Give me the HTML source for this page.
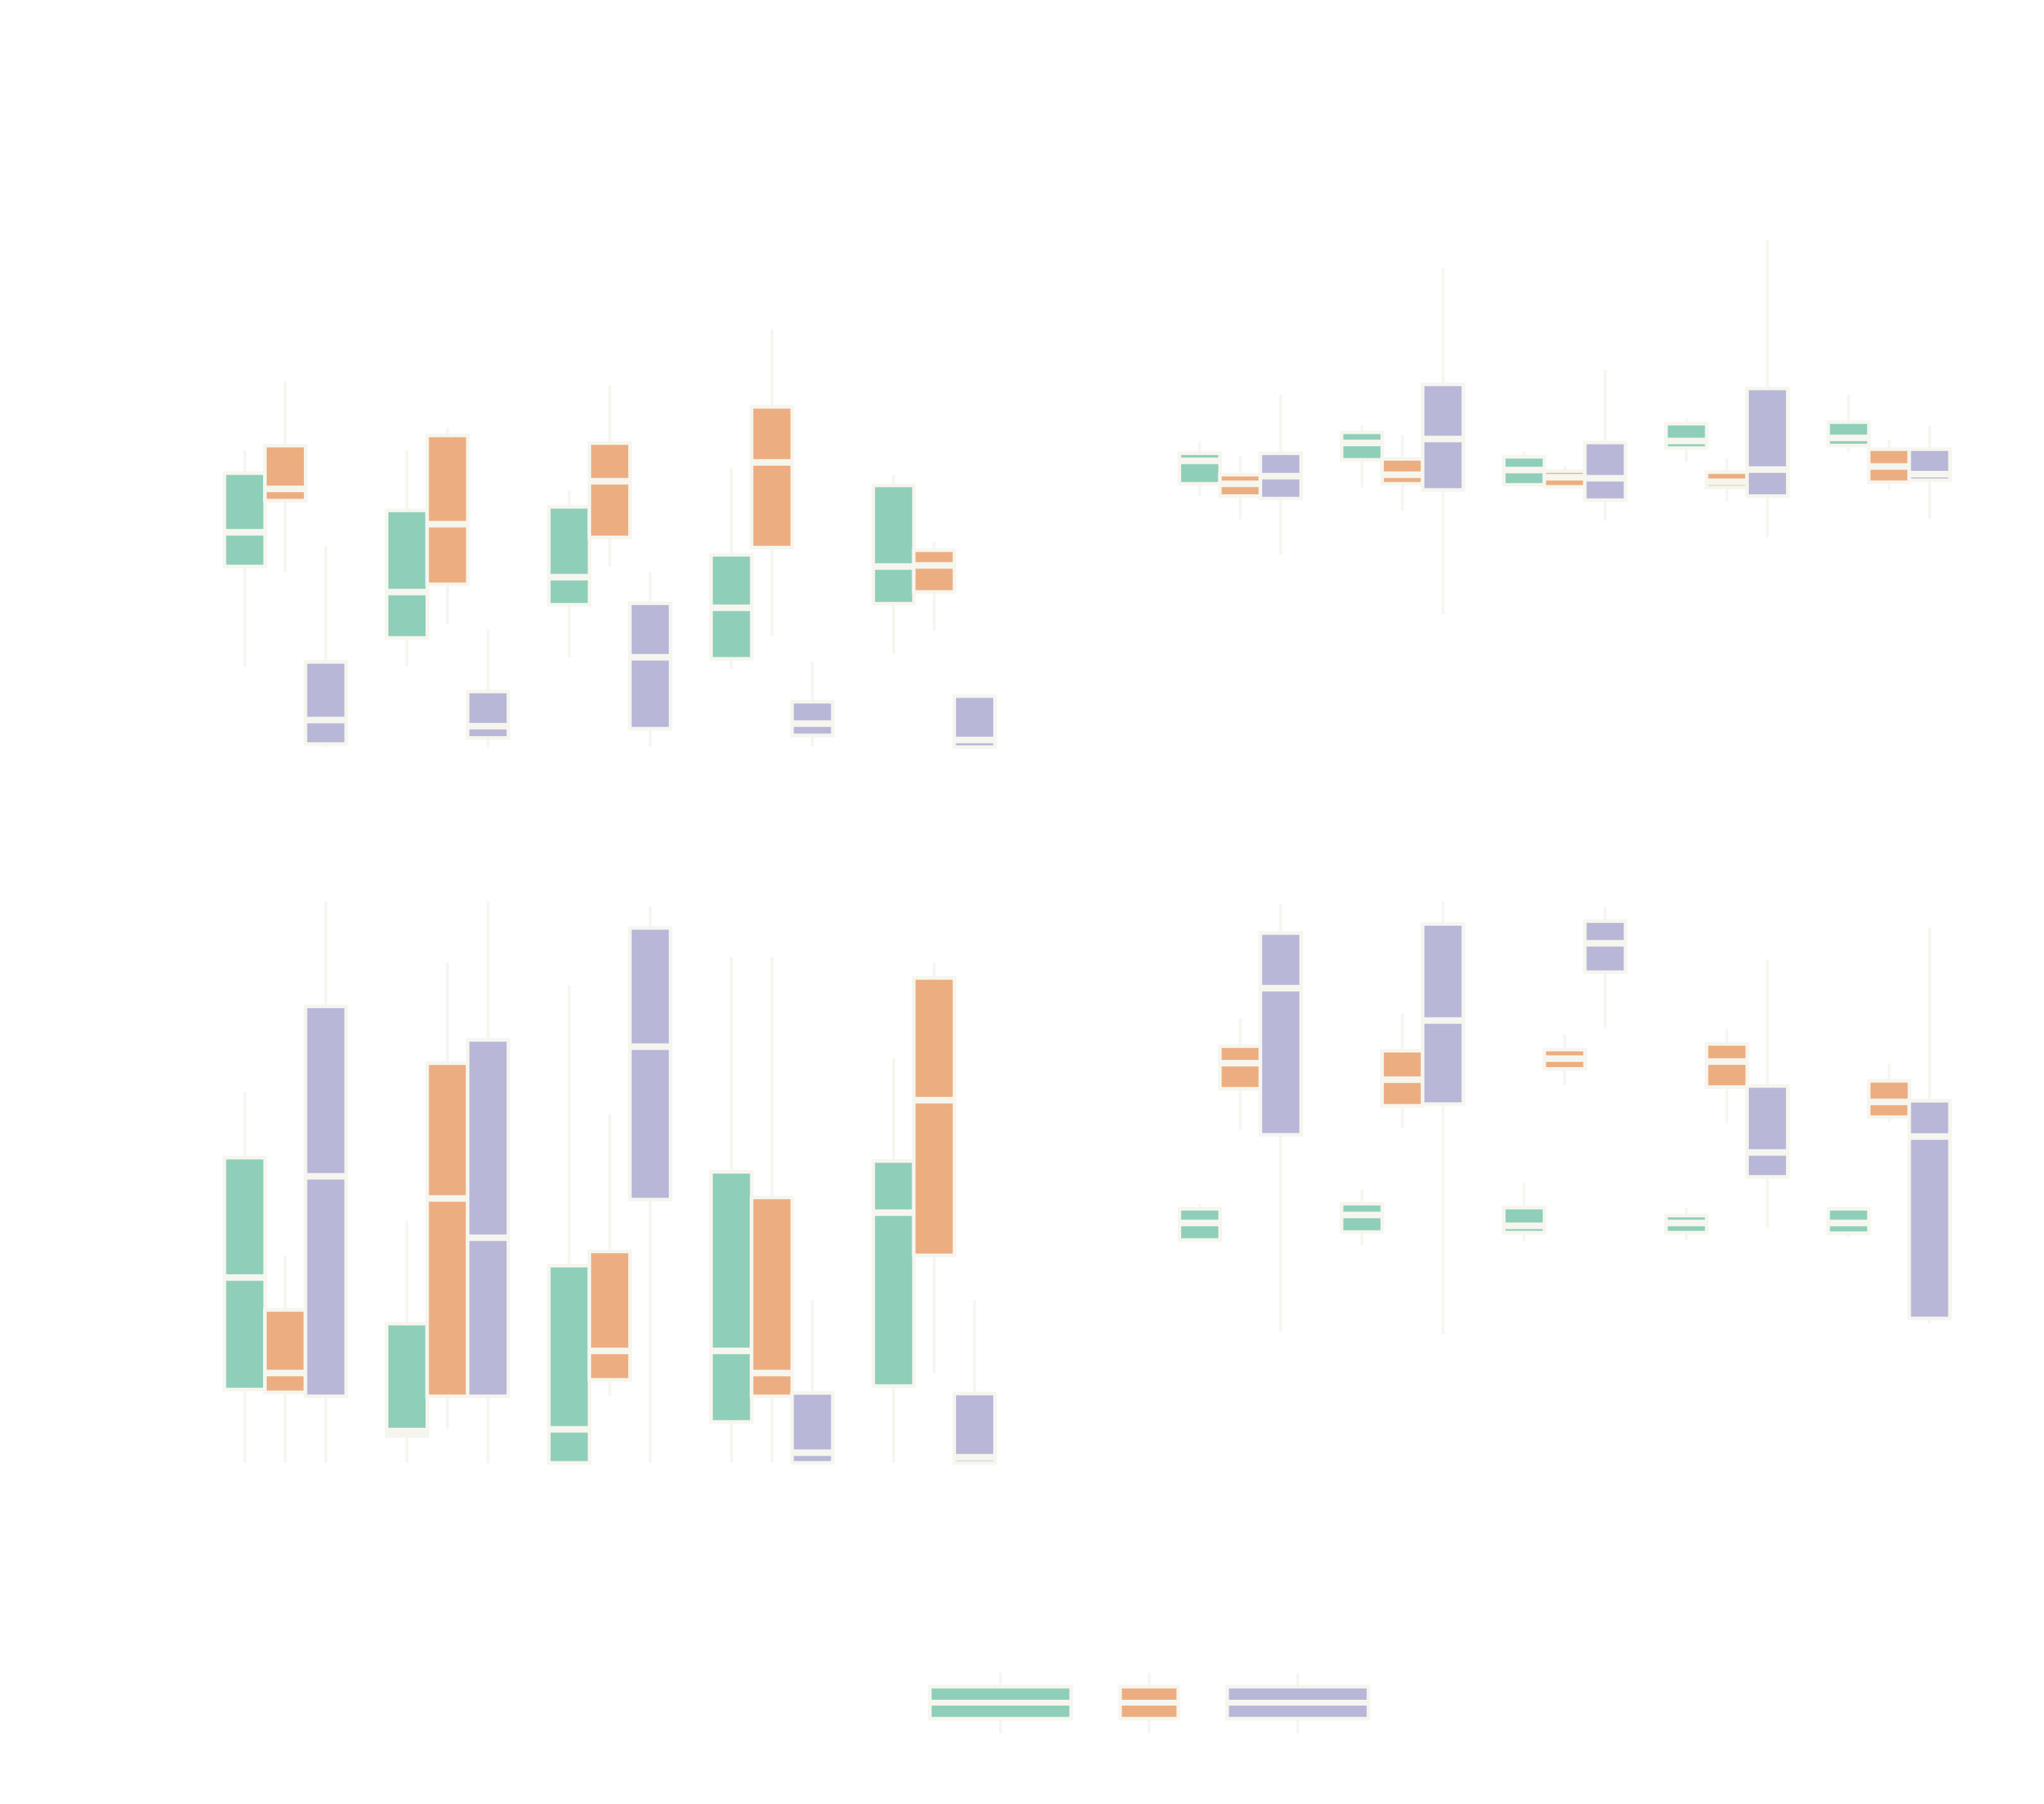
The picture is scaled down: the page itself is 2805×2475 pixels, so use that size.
<!DOCTYPE html>
<html><head><meta charset="utf-8"><style>
html,body{margin:0;padding:0;background:#fff;}
svg{display:block;}
</style></head><body>
<svg id="chart" xmlns="http://www.w3.org/2000/svg" width="2805" height="2475" viewBox="0 0 2805 2475">
<rect x="0" y="0" width="2805" height="2475" fill="#ffffff"/>
<g id="panels"></g>
<g id="legend"></g>
</svg>
<script>
// categories and series
const groups = ["G1","G2","G3","G4","G5"];
const seriesNames = ["A","B","C"];
const seriesColors = ["#8fcfba","#ecae81","#b8b7d8"];
// each box: [low, q1, median, q3, high]
const topLeftA = [[15.8,35.4,42.1,53.7,58.2],[15.8,21.4,30.4,46.4,58.2],[17.6,27.9,33.3,47.1,50.4],[15.3,17.3,27.3,37.7,54.6],[18.3,28.1,35.4,51.3,53.4]];
const topLeftB = [[34.3,48.3,50.6,59.1,71.8],[24,31.9,43.7,61.1,62.6],[35.4,41.1,52.1,59.6,70.9],[21.8,39.1,55.8,66.7,82],[22.9,30.4,35.6,38.6,40.3]];
const topLeftC = [[0,0.6,5.3,16.7,39.4],[0,1.8,4.1,10.9,23.1],[0,3.6,17.6,28.2,34.4],[0,2.3,4.6,8.9,16.8],[0,0,1.4,10,10]];
const topRightA = [[49.2,51.6,56.1,57.6,59.9],[50.9,56.3,59.6,61.7,63.1],[51.3,51.4,54.3,56.9,58],[55.9,58.6,60,63.4,64.5],[57.9,59.1,60.6,63.7,69.1]];
const topRightB = [[44.7,49.2,51.6,53.4,57],[46.3,51.6,53.4,56.5,61.2],[50.7,51,52.9,54.1,55.1],[48.1,50.9,52,53.9,56.6],[50.5,51.9,55,58.4,60.3]];
const topRightC = [[37.7,48.7,53.1,57.6,69.1],[26,50.4,60.4,71.1,93.9],[44.4,48.4,52.7,59.7,74],[41.1,49.2,54.4,70.3,99.5],[44.7,52.3,53.5,58.4,63]];
const botLeftA = [[0,12.9,32.6,53.7,65.2],[0,4.7,5.6,24.5,42.6],[0,0,5.9,34.7,84],[0,7.2,19.7,51.2,89],[0,13.5,44,53.1,71.2]];
const botLeftB = [[0,12.4,15.8,26.9,36.5],[6,11.7,46.5,70.3,88],[11.8,14.6,19.7,37.2,61.3],[0,11.7,15.8,46.7,89],[15.8,36.5,63.8,85.3,88]];
const botLeftC = [[0,11.7,50.4,80.3,98.8],[0,11.7,39.6,74.4,98.8],[0,46.3,73.2,94.1,97.9],[0,0,1.8,12.3,28.6],[0,0,1,12.2,28.6]];
const botRightA = [[38.8,39.2,42.2,44.7,45.6],[38.3,40.6,43.6,45.6,48.1],[39,40.5,41.7,44.9,49.2],[39.2,40.5,42.2,43.5,44.9],[39.6,40.4,42.2,44.7,44.7]];
const botRightB = [[58.6,65.8,70.3,73.3,78.2],[58.8,62.8,67.4,72.5,79.1],[66.4,69.3,71.1,72.7,75.4],[59.7,66.1,70.6,73.7,76.4],[59.9,60.8,63.5,67.2,70.3]];
const botRightC = [[22.9,57.7,83.5,93.2,98.3],[22.6,63.1,77.8,94.8,98.8],[76.4,86.3,91.4,95.3,97.8],[41.3,50.3,54.6,66.3,88.6],[24.5,25.4,57.4,63.7,94.2]];

const panels = [
  {name:"top-left-panel", x0:391.5, y0:1025, ky:7.0, data:[topLeftA,topLeftB,topLeftC]},
  {name:"top-right-panel", x0:1702, y0:1025, ky:7.0, data:[topRightA,topRightB,topRightC]},
  {name:"bottom-left-panel", x0:391.5, y0:2007, ky:7.8, data:[botLeftA,botLeftB,botLeftC]},
  {name:"bottom-right-panel", x0:1702, y0:2007, ky:7.8, data:[botRightA,botRightB,botRightC]}
];
const NS = "http://www.w3.org/2000/svg";
const STROKE = "#f6f6ef";
const groupStep = 222.6, seriesStep = 55.6, boxW = 56;
function mk(tag, attrs, parent){ const e=document.createElementNS(NS,tag); for(const k in attrs) e.setAttribute(k,attrs[k]); parent.appendChild(e); return e; }
const root = document.getElementById("panels");
panels.forEach(p=>{
  const g = mk("g",{},root);
  
  
  const yS = v => p.y0 - v*p.ky;
  const xS = (gi,si) => p.x0 + gi*groupStep + (si-1)*seriesStep;
  p.data.forEach((series,si)=>{
    series.forEach((b,gi)=>{
      const cx = xS(gi,si);
      const w = mk("line",{x1:cx,x2:cx,y1:yS(b[0]),y2:yS(b[4]),stroke:STROKE,"stroke-width":4},g);
      
      
    });
  });
  p.data.forEach((series,si)=>{
    series.forEach((b,gi)=>{
      const cx = xS(gi,si);
      const r = mk("rect",{x:cx-boxW/2,y:yS(b[3]),width:boxW,height:Math.max(0.5,yS(b[1])-yS(b[3])),fill:seriesColors[si],stroke:STROKE,"stroke-width":5},g);
      
      
      const m = mk("line",{x1:cx-boxW/2,x2:cx+boxW/2,y1:yS(b[2]),y2:yS(b[2]),stroke:STROKE,"stroke-width":9},g);
      
      
    });
  });
});
// legend
const legendX = [[1274,1472],[1535,1619],[1682,1880]];
const lg = document.getElementById("legend");
legendX.forEach((xx,i)=>{
  const cx=(xx[0]+xx[1])/2;
  const e = mk("g",{},lg);
  
  
  mk("line",{x1:cx,x2:cx,y1:2295,y2:2378,stroke:STROKE,"stroke-width":4},e);
  mk("rect",{x:xx[0]+2,y:2314,width:xx[1]-xx[0]-4,height:44,fill:seriesColors[i],stroke:STROKE,"stroke-width":5},e);
  mk("line",{x1:xx[0]+2,x2:xx[1]-2,y1:2336,y2:2336,stroke:STROKE,"stroke-width":8},e);
});
</script>
</body></html>
